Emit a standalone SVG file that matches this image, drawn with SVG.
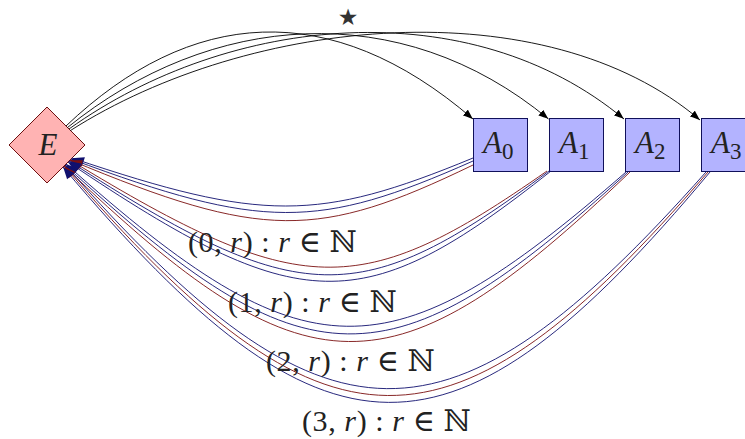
<svg xmlns="http://www.w3.org/2000/svg" width="745" height="439" viewBox="0 0 745 439">
<style>
.blk{fill:none;stroke:#000;stroke-width:0.9;marker-end:url(#ab)}
.bl{fill:none;stroke:#10106e;stroke-width:0.9;marker-end:url(#an)}
.rd{fill:none;stroke:#7a1010;stroke-width:0.9;marker-end:url(#ar)}
.box{fill:#b3b3ff;stroke:#10105a;stroke-width:1}
.dia{fill:#ffb3b3;stroke:#6e1010;stroke-width:1}
.lab{font-family:"Liberation Serif","DejaVu Serif",serif;fill:#222}
.it{font-style:italic}
</style>
<defs>
<marker id="ab" markerUnits="userSpaceOnUse" viewBox="-10 -4 11 8" refX="0" refY="0" markerWidth="11" markerHeight="8" orient="auto">
<path d="M0,0 C-3,-1 -7,-2.5 -10,-3.8 L-10,3.8 C-7,2.5 -3,1 0,0 z" fill="#000"/>
</marker>
<marker id="an" markerUnits="userSpaceOnUse" viewBox="-13 -5 14 10" refX="0" refY="0" markerWidth="14" markerHeight="10" orient="auto">
<path d="M0,0 C-3,-1 -8,-3 -12,-4.8 L-12,4.8 C-8,3 -3,1 0,0 z" fill="#10106e"/>
</marker>
<marker id="ar" markerUnits="userSpaceOnUse" viewBox="-13 -5 14 10" refX="0" refY="0" markerWidth="14" markerHeight="10" orient="auto">
<path d="M0,0 C-3,-1 -8,-3 -12,-4.8 L-12,4.8 C-8,3 -3,1 0,0 z" fill="#7a1010"/>
</marker>
</defs>
<g id="E">
<polygon class="dia" points="47,107 85,145 47,183 9,145"/>
<text class="lab it" x="48" y="155" font-size="31" text-anchor="middle">E</text>
</g>
<g id="A0">
<rect class="box" x="473.5" y="118.5" width="54" height="53"/>
<text class="lab" x="483" y="153" font-size="31"><tspan class="it">A</tspan><tspan font-size="23" dy="6">0</tspan></text>
</g>
<g id="A1">
<rect class="box" x="549.5" y="118.5" width="54" height="53"/>
<text class="lab" x="559" y="153" font-size="31"><tspan class="it">A</tspan><tspan font-size="23" dy="6">1</tspan></text>
</g>
<g id="A2">
<rect class="box" x="625.5" y="118.5" width="54" height="53"/>
<text class="lab" x="635" y="153" font-size="31"><tspan class="it">A</tspan><tspan font-size="23" dy="6">2</tspan></text>
</g>
<g id="A3">
<rect class="box" x="701.5" y="118.5" width="54" height="53"/>
<text class="lab" x="711" y="153" font-size="31"><tspan class="it">A</tspan><tspan font-size="23" dy="6">3</tspan></text>
</g>
<g id="connectors">
<path class="blk" d="M66,126 C190,8 330,-4 473,119"/>
<path class="blk" d="M67.5,127.5 C210,12 400,-4 548.5,119"/>
<path class="blk" d="M69,129 C230,14 470,-9 624,119"/>
<path class="blk" d="M70.5,130.5 C250,16 545,-12 700,120"/>
<path class="bl" d="M473,158 C318,222 262,222 72,158"/>
<path class="bl" d="M473,161 C318,230 262,230 71,159"/>
<path class="rd" d="M473,165 C318,240 262,240 70,160"/>
<path class="rd" d="M547,171 C360,302 300,300 70,160"/>
<path class="bl" d="M549,171 C360,312 300,310 69,161"/>
<path class="bl" d="M551,171 C362,321 300,318 68,162"/>
<path class="bl" d="M626,172 C388,380 306,378 66,164"/>
<path class="bl" d="M628,172 C390,390 306,388 65,165"/>
<path class="rd" d="M630,172 C392,400 306,398 64,166"/>
<path class="bl" d="M706,172 C448,463 326,461 65,165"/>
<path class="rd" d="M708,172 C450,472 326,470 64,166"/>
<path class="bl" d="M710,172 C452,481 326,479 63,167"/>
<text x="348" y="25" font-size="23" text-anchor="middle" font-family="DejaVu Sans" fill="#333">★</text>
<text class="lab" x="188" y="252" font-size="30" textLength="169">(0, <tspan class="it">r</tspan>) : <tspan class="it">r</tspan> ∈ ℕ</text>
<text class="lab" x="228" y="312" font-size="30" textLength="169">(1, <tspan class="it">r</tspan>) : <tspan class="it">r</tspan> ∈ ℕ</text>
<text class="lab" x="266" y="371" font-size="30" textLength="169">(2, <tspan class="it">r</tspan>) : <tspan class="it">r</tspan> ∈ ℕ</text>
<text class="lab" x="302" y="431" font-size="30" textLength="169">(3, <tspan class="it">r</tspan>) : <tspan class="it">r</tspan> ∈ ℕ</text>
</g>
</svg>
